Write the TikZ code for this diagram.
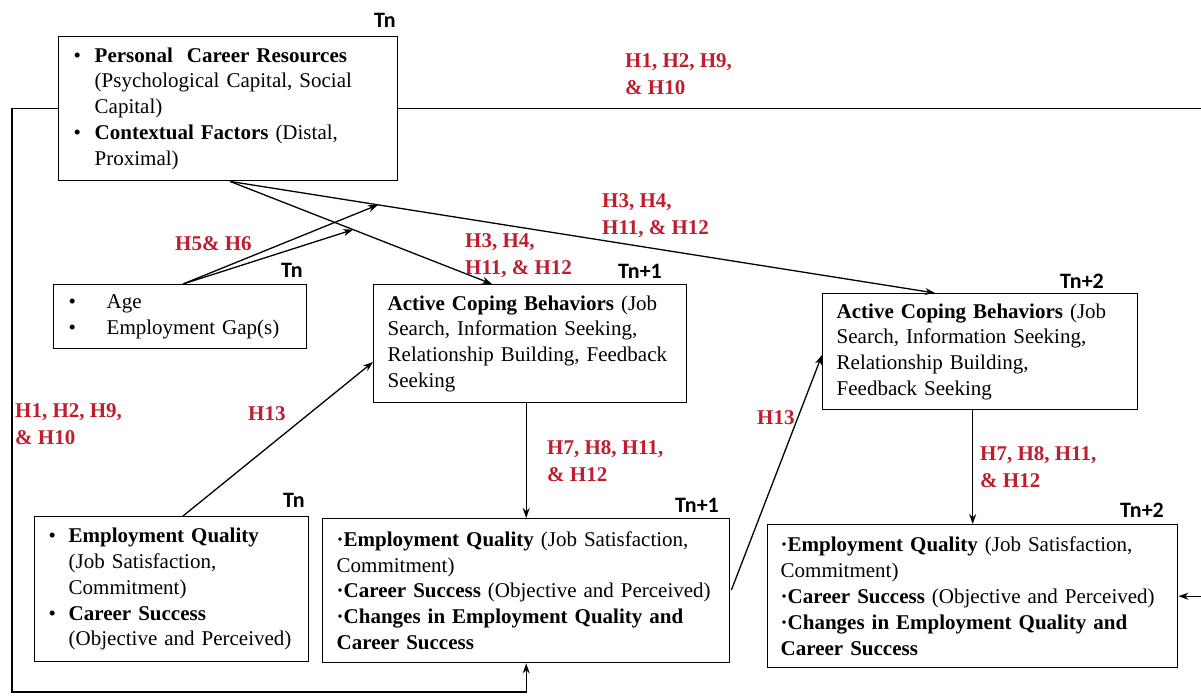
\documentclass[tikz,border=0pt]{standalone}
\usepackage{fontspec}
\setmainfont{Liberation Serif}
\newfontfamily\tnfont{Carlito}
\usetikzlibrary{arrows.meta,calc}
\definecolor{hred}{RGB}{190,30,45}
\newcommand\mybul[1][21pt]{\makebox[#1][l]{\textbullet}}
\newcommand\myind[1][21pt]{\hspace*{#1}}
\begin{document}
\begin{tikzpicture}[x=1pt,y=-1pt,
  box/.style={draw, line width=1.4pt, anchor=north west, align=left, inner ysep=0pt,
    font=\fontsize{21}{25.8}\selectfont},
  arr/.style={line width=1.3pt, -{Stealth[length=10pt,width=7pt]}},
  ln/.style={line width=1.3pt},
  hyp/.style={anchor=north west, inner sep=0pt, align=left, text=hred,
    font=\fontsize{21}{27}\selectfont\bfseries},
  tlab/.style={inner sep=0pt, font=\tnfont\fontsize{22}{22}\selectfont\bfseries}
]
\useasboundingbox (0,0) rectangle (1201,696);

% boxes
\node[box, minimum width=339pt, minimum height=144pt, text width=309pt, inner xsep=15pt] (A) at (58,36)
 {\mybul\textbf{Personal\ \ Career Resources}\\
  \myind(Psychological Capital, Social\\
  \myind Capital)\\
  \mybul\textbf{Contextual Factors} (Distal,\\
  \myind Proximal)};
\node[box, minimum width=253pt, minimum height=64pt, text width=223pt, inner xsep=15pt] (B) at (53,284)
 {\mybul[38pt]Age\\
  \mybul[38pt]Employment Gap(s)};
\node[box, minimum width=313pt, minimum height=118pt, text width=285pt, inner xsep=14pt] (C) at (373,284)
 {\textbf{Active Coping Behaviors} (Job\\
  Search, Information Seeking,\\
  Relationship Building, Feedback\\
  Seeking};
\node[box, minimum width=315pt, minimum height=116pt, text width=287pt, inner xsep=14pt] (D) at (822,293)
 {\textbf{Active Coping Behaviors} (Job\\
  Search, Information Seeking,\\
  Relationship Building,\\
  Feedback Seeking};
\node[box, minimum width=274pt, minimum height=145pt, text width=246pt, inner xsep=14pt] (G) at (34,516)
 {\mybul[20pt]\textbf{Employment Quality}\\
  \myind[20pt](Job Satisfaction,\\
  \myind[20pt]Commitment)\\
  \mybul[20pt]\textbf{Career Success}\\
  \myind[20pt](Objective and Perceived)};
\node[box, minimum width=407pt, minimum height=144pt, text width=379pt, inner xsep=14pt] (E) at (322,518)
 {\textbf{·Employment Quality} (Job Satisfaction,\\
  Commitment)\\
  \textbf{·Career Success} (Objective and Perceived)\\
  \textbf{·Changes in Employment Quality and}\\
  \textbf{Career Success}};
\node[box, minimum width=410pt, minimum height=143pt, text width=384pt, inner xsep=13pt] (F) at (767,524)
 {\textbf{·Employment Quality} (Job Satisfaction,\\
  Commitment)\\
  \textbf{·Career Success} (Objective and Perceived)\\
  \textbf{·Changes in Employment Quality and}\\
  \textbf{Career Success}};

% time labels
\node[tlab] (tA) at (385,20) {Tn};
\node[tlab] (tB) at (292,270) {Tn};
\node[tlab] (tC) at (640,271) {Tn+1};
\node[tlab] (tD) at (1082,281) {Tn+2};
\node[tlab] (tG) at (294,500) {Tn};
\node[tlab] (tE) at (697,505) {Tn+1};
\node[tlab] (tF) at (1142,510) {Tn+2};

% connector end points
\coordinate (a1) at ($(A.south west)+(172,0)$);
\coordinate (c1) at ($(C.north west)+(119,0)$);
\coordinate (d1) at ($(D.north west)+(113,0)$);
\coordinate (m1) at ($(a1)!0.21!(d1)$);
\coordinate (m2) at ($(a1)!0.47!(c1)$);
\coordinate (b1) at ($(B.north west)+(130,0)$);
\coordinate (g1) at ($(G.north west)+(149,0)$);
\coordinate (c2) at ($(C.north west)+(0,78)$);
\coordinate (e1) at ($(E.north east)+(1,72)$);
\coordinate (d2) at ($(D.north west)+(0,62)$);
\coordinate (lt) at (12,0);
\coordinate (lb) at (0,692);
\coordinate (rx) at (1204,0);

% connectors
\draw[arr] (a1) -- (c1);
\draw[arr] (a1) -- (d1);
\draw[arr] (b1) -- (m1);
\draw[arr] (b1) -- (m2);
\draw[arr] (g1) -- (c2);
\draw[arr] (e1) -- (d2);
\draw[arr] (C.south -| E.north) -- (E.north);
\draw[arr] (F.north |- D.south) -- (F.north);
\draw[arr] (A.west) -- (A.west -| lt) -- (lt |- lb) -- (E.south |- lb) -- (E.south);
\draw[arr] (A.east) -- (A.east -| rx) -- (rx |- F.east) -- (F.east);

% hypothesis labels
\node[hyp] (h1) at (625,53) {H1, H2, H9,\\\& H10};
\node[hyp] (h2) at (602,193) {H3, H4,\\H11, \& H12};
\node[hyp] (h3) at (175,236) {H5\& H6};
\node[hyp] (h4) at (465,233) {H3, H4,\\H11, \& H12};
\node[hyp] (h5) at (15,403) {H1, H2, H9,\\\& H10};
\node[hyp] (h6) at (248,406) {H13};
\node[hyp] (h7) at (547,440) {H7, H8, H11,\\\& H12};
\node[hyp] (h8) at (757,410) {H13};
\node[hyp] (h9) at (980,446) {H7, H8, H11,\\\& H12};
\end{tikzpicture}
\end{document}
